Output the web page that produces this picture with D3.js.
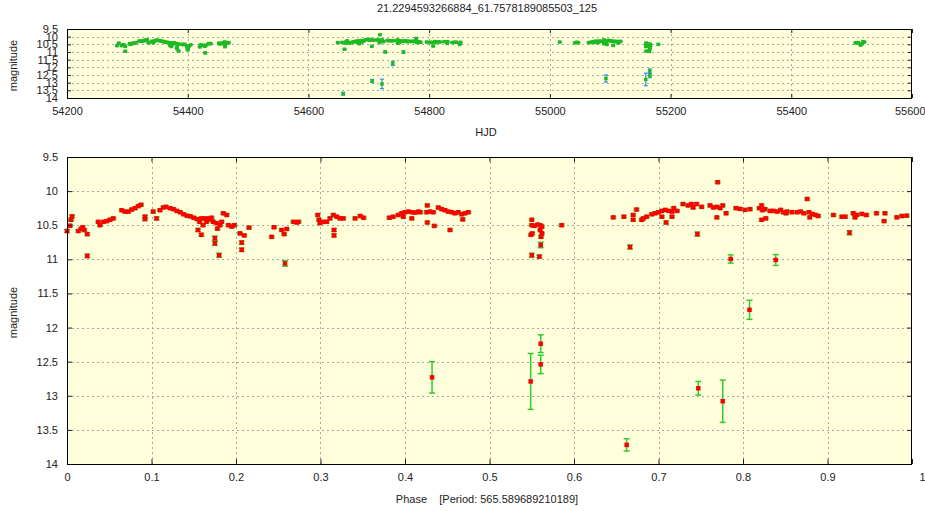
<!DOCTYPE html>
<html>
<head>
<meta charset="utf-8">
<script src="https://cdn.jsdelivr.net/npm/d3@7"></script>
<style>
  html, body { margin: 0; padding: 0; background: #ffffff; }
  svg text { font-family: "Liberation Sans", Arial, sans-serif; fill: #222; }
</style>
</head>
<body>
<svg id="chart" width="925" height="511"></svg>
<script>
// Light curve of 21.2294593266884_61.7578189085503_125
const TITLE = "21.2294593266884_61.7578189085503_125";
const PERIOD = 565.589689210189;
const EPOCH = 54283;   // HJD of phase zero

// Observations per folding cycle: [phase, magnitude, error]
const cycle0 = [
  [0.000,10.585,0.02],[0.0047,10.42,0.015],[0.0134,10.585,0.015],[0.0166,10.555,0.015],
  [0.0186,10.53,0.015],[0.0205,10.57,0.015],[0.024,10.63,0.02],[0.024,10.95,0.025],
  [0.037,10.45,0.015],[0.039,10.50,0.015],[0.043,10.45,0.015],[0.047,10.44,0.015],
  [0.0509,10.42,0.015],[0.0548,10.40,0.015],[0.0647,10.28,0.015],[0.0686,10.30,0.015],
  [0.0726,10.30,0.015],[0.0766,10.27,0.015],[0.0805,10.25,0.015],[0.0844,10.22,0.015],
  [0.0876,10.20,0.015],[0.0923,10.375,0.02],[0.0923,10.41,0.02],[0.102,10.30,0.015],
  [0.106,10.40,0.02],[0.110,10.28,0.015],[0.114,10.24,0.015],[0.117,10.23,0.015],
  [0.122,10.25,0.015],[0.126,10.265,0.015],[0.130,10.29,0.015],[0.134,10.31,0.015],
  [0.138,10.34,0.015],[0.142,10.36,0.015],[0.146,10.37,0.015],[0.150,10.39,0.015],
  [0.154,10.41,0.015],[0.157,10.45,0.015],[0.159,10.40,0.015],[0.161,10.50,0.015],
  [0.165,10.45,0.015],[0.168,10.40,0.015],[0.155,10.57,0.02],[0.159,10.64,0.02],
  [0.173,10.45,0.015],[0.177,10.47,0.015],[0.181,10.50,0.015],[0.191,10.50,0.015],
  [0.195,10.52,0.015],[0.198,10.50,0.015],[0.175,10.69,0.03],[0.175,10.765,0.03],
  [0.180,10.94,0.03],[0.2047,10.62,0.015],[0.2098,10.65,0.015],[0.2154,10.535,0.015],
  [0.2067,10.755,0.025],[0.2067,10.86,0.025],[0.2422,10.67,0.015],[0.245,10.53,0.015],
  [0.254,10.57,0.015],[0.257,10.63,0.015],[0.260,10.555,0.015],[0.258,11.06,0.04],
  [0.268,10.45,0.015],[0.272,10.46,0.015],[0.274,10.45,0.015],[0.2982,10.42,0.015],
  [0.2994,10.47,0.015],[0.3033,10.45,0.015],[0.3073,10.45,0.015],[0.3112,10.40,0.015],
  [0.3152,10.35,0.015],[0.3192,10.375,0.015],[0.323,10.40,0.015],[0.327,10.40,0.015],
  [0.316,10.57,0.02],[0.316,10.65,0.02],
  [0.6465,10.385,0.015],[0.659,10.375,0.015],[0.6623,13.72,0.09],[0.6663,10.82,0.03],
  [0.670,10.35,0.015],[0.670,10.42,0.015],[0.674,10.27,0.015],[0.680,10.42,0.015],
  [0.682,10.40,0.015],[0.686,10.375,0.015],[0.692,10.34,0.015],[0.696,10.325,0.015],
  [0.700,10.31,0.015],[0.704,10.29,0.015],[0.704,10.375,0.015],[0.708,10.275,0.015],
  [0.709,10.46,0.02],[0.712,10.29,0.015],[0.716,10.30,0.015],[0.716,10.375,0.015],
  [0.718,10.25,0.015],[0.722,10.29,0.015],[0.729,10.19,0.015],[0.735,10.21,0.015],
  [0.739,10.19,0.015],[0.741,10.24,0.015],[0.745,10.19,0.015],[0.746,10.63,0.03],
  [0.7471,12.89,0.10],[0.751,10.23,0.015],[0.761,10.21,0.015],[0.765,10.24,0.015],
  [0.769,10.23,0.015],[0.769,10.385,0.015],[0.770,9.87,0.015],[0.773,10.25,0.015],
  [0.776,10.21,0.015],[0.776,13.08,0.31],[0.780,10.325,0.015],[0.7854,10.995,0.06],
  [0.7917,10.25,0.015],[0.7964,10.26,0.015],[0.8024,10.275,0.015],[0.8077,11.74,0.14],
  [0.8083,10.265,0.015],[0.8193,10.25,0.015],[0.822,10.21,0.015],[0.823,10.28,0.015],
  [0.826,10.265,0.015],[0.822,10.42,0.015],[0.827,10.40,0.015],[0.832,10.29,0.015],
  [0.836,10.29,0.015],[0.8387,11.01,0.08],[0.8406,10.30,0.015],[0.8446,10.275,0.015],
  [0.8477,10.31,0.015],[0.8509,10.325,0.015],[0.852,10.30,0.015],[0.858,10.31,0.015],
  [0.864,10.31,0.015],[0.868,10.30,0.015],[0.872,10.325,0.015],[0.876,10.115,0.015],
  [0.878,10.31,0.015],[0.879,10.385,0.015],[0.882,10.335,0.015],[0.886,10.35,0.015],
  [0.889,10.365,0.015],[0.907,10.35,0.015],[0.917,10.375,0.015],[0.921,10.375,0.015],
  [0.926,10.61,0.03],[0.9305,10.325,0.015],[0.9325,10.385,0.015],[0.9345,10.35,0.015],
  [0.9405,10.335,0.015],[0.946,10.35,0.015],[0.958,10.325,0.015],[0.967,10.44,0.015],
  [0.968,10.325,0.015],[0.982,10.385,0.015],[0.988,10.365,0.015],[0.9937,10.36,0.015]
];
const cycle1 = [
  [0.0036,10.507,0.015],[0.006,10.37,0.015],[0.2967,10.35,0.015],[0.341,10.40,0.015],
  [0.347,10.365,0.015],[0.351,10.39,0.015],[0.3815,10.39,0.015],[0.386,10.375,0.015],
  [0.392,10.35,0.015],[0.396,10.325,0.015],[0.398,10.375,0.015],[0.400,10.31,0.015],
  [0.404,10.30,0.015],[0.408,10.31,0.015],[0.408,10.40,0.015],[0.412,10.315,0.015],
  [0.416,10.30,0.015],[0.418,10.31,0.015],[0.4257,10.31,0.015],[0.4264,10.21,0.015],
  [0.4264,10.46,0.015],[0.4296,10.30,0.015],[0.432,12.73,0.23],[0.4335,10.31,0.015],
  [0.4347,10.51,0.015],[0.4394,10.24,0.015],[0.4434,10.265,0.015],[0.4473,10.28,0.015],
  [0.4512,10.30,0.015],[0.4533,10.57,0.015],[0.4553,10.31,0.015],[0.4592,10.325,0.015],
  [0.463,10.31,0.015],[0.467,10.34,0.015],[0.4683,10.415,0.015],[0.471,10.325,0.015],
  [0.475,10.31,0.015],[0.549,10.64,0.015],[0.5487,12.79,0.41],[0.550,10.42,0.015],
  [0.550,10.50,0.015],[0.550,10.94,0.03],[0.5506,10.62,0.015],[0.553,10.51,0.015],
  [0.557,10.49,0.015],[0.559,10.96,0.02],[0.560,10.50,0.015],[0.560,10.57,0.015],
  [0.5606,10.79,0.04],[0.5606,12.237,0.13],[0.5606,12.54,0.135],[0.561,10.67,0.015],
  [0.562,10.52,0.015],[0.562,10.62,0.015],[0.5854,10.50,0.015]
];
const cycle2 = [
  [0.163,10.40,0.015],[0.167,10.42,0.015],[0.171,10.39,0.015],[0.178,10.55,0.015],
  [0.183,10.45,0.015],[0.185,10.325,0.015],[0.189,10.35,0.015]
];

const hjdTicks = [54200, 54400, 54600, 54800, 55000, 55200, 55400, 55600];
const phaseTicks = [0, 0.1, 0.2, 0.3, 0.4, 0.5, 0.6, 0.7, 0.8, 0.9, 1];
const magTicks = [9.5, 10, 10.5, 11, 11.5, 12, 12.5, 13, 13.5, 14];

// Flatten into point records, recovering HJD from cycle + phase
const points = [];
[cycle0, cycle1, cycle2].forEach((rows, c) => {
  rows.forEach(([p, m, e]) => points.push({ phase: p, hjd: EPOCH + (c + p) * PERIOD, mag: m, err: e }));
});

const svg = d3.select("#chart");
const BG = "#ffffdc";

function panel(opts) {
  const { left, right, top, bottom, xDomain, xTicks, xFmt, key,
          dotColor, barColor, dot, cap, barW, tick } = opts;
  const x = d3.scaleLinear().domain(xDomain).range([left, right]);
  const y = d3.scaleLinear().domain([9.5, 14]).range([top, bottom]);
  const g = svg.append("g");

  g.append("rect").attr("x", left).attr("y", top)
    .attr("width", right - left).attr("height", bottom - top).attr("fill", BG);

  // dotted grid
  const grid = g.append("g").attr("stroke", "#a8a8a8").attr("stroke-width", 1)
    .attr("stroke-dasharray", "2,3");
  grid.selectAll("line.gx").data(xTicks.slice(1, -1)).join("line")
    .attr("x1", d => Math.round(x(d)) + 0.5).attr("x2", d => Math.round(x(d)) + 0.5)
    .attr("y1", top).attr("y2", bottom);
  grid.selectAll("line.gy").data(magTicks.slice(1, -1)).join("line")
    .attr("x1", left).attr("x2", right)
    .attr("y1", d => Math.round(y(d)) + 0.5).attr("y2", d => Math.round(y(d)) + 0.5);

  // error bars
  const bars = g.append("g").attr("stroke", barColor).attr("stroke-width", barW);
  points.forEach(d => {
    const cx = x(d[key]), y1 = y(d.mag - d.err), y2 = y(d.mag + d.err);
    bars.append("line").attr("x1", cx).attr("x2", cx).attr("y1", y1).attr("y2", y2);
    bars.append("line").attr("x1", cx - cap / 2).attr("x2", cx + cap / 2).attr("y1", y1).attr("y2", y1);
    bars.append("line").attr("x1", cx - cap / 2).attr("x2", cx + cap / 2).attr("y1", y2).attr("y2", y2);
  });

  // points
  g.append("g").selectAll("rect").data(points).join("rect")
    .attr("x", d => x(d[key]) - dot / 2).attr("y", d => y(d.mag) - dot / 2)
    .attr("width", dot).attr("height", dot).attr("fill", dotColor);

  // axes with inward ticks on all four sides
  const ax = (a, tx, ty, fmt, vals) => {
    const sel = g.append("g").attr("transform", `translate(${tx},${ty})`)
      .call(a.tickValues(vals).tickSize(-tick).tickPadding(fmt ? 9 : 0).tickFormat(fmt || (() => "")));
    sel.select(".domain").remove();
    sel.selectAll(".tick line").attr("stroke", "#222");
    sel.selectAll("text").attr("font-size", 11).attr("fill", "#222")
      .attr("font-family", "Liberation Sans, Arial, sans-serif");
    return sel;
  };
  const xb = ax(d3.axisBottom(x), 0, bottom, xFmt, xTicks);
  // keep the last label inside the canvas
  xb.selectAll(".tick text").filter(d => x(d) > 900).attr("text-anchor", "end").attr("dx", 13);
  ax(d3.axisTop(x), 0, top, null, xTicks);
  ax(d3.axisLeft(y), left, 0, d => String(d), magTicks);
  ax(d3.axisRight(y), right, 0, null, magTicks);

  g.append("rect").attr("x", left + 0.5).attr("y", top + 0.5)
    .attr("width", right - left - 1).attr("height", bottom - top)
    .attr("fill", "none").attr("stroke", "#000").attr("stroke-width", 1);

  g.append("text").attr("transform", `translate(17,${(top + bottom) / 2 + 2}) rotate(-90)`)
    .attr("text-anchor", "middle").attr("font-size", 11).text("magnitude");
  return { x, y };
}

panel({ left: 67, right: 912, top: 29, bottom: 98, xDomain: [54200, 55600],
        xTicks: hjdTicks, xFmt: d => String(d), key: "hjd",
        dotColor: "#1fbb1f", barColor: "#2a8ff0", dot: 3.5, cap: 4, barW: 1.2, tick: 4 });

panel({ left: 67, right: 912, top: 157, bottom: 464, xDomain: [0, 1],
        xTicks: phaseTicks, xFmt: d => String(d), key: "phase",
        dotColor: "#ff0000", barColor: "#2fcc2f", dot: 4.5, cap: 6, barW: 1.5, tick: 5 });

svg.append("text").attr("x", 487).attr("y", 12).attr("text-anchor", "middle")
  .attr("font-size", 11).text(TITLE);
svg.append("text").attr("x", 486).attr("y", 136).attr("text-anchor", "middle")
  .attr("font-size", 11).text("HJD");
svg.append("text").attr("x", 487).attr("y", 503).attr("text-anchor", "middle")
  .attr("font-size", 11).attr("xml:space", "preserve")
  .text("Phase    [Period: " + PERIOD + "]");
</script>
</body>
</html>
